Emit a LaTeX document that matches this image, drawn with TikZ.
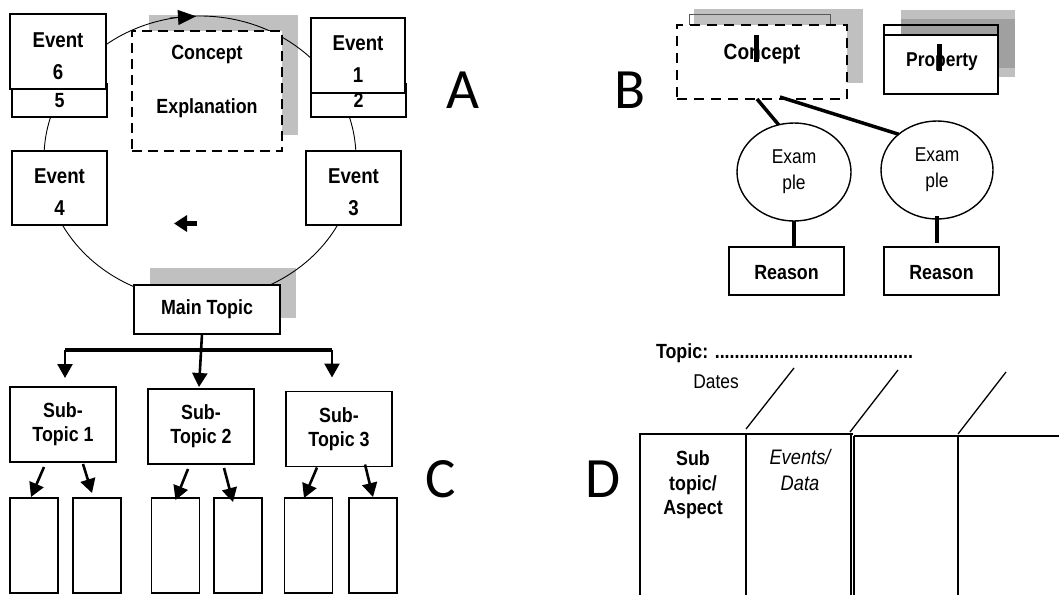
\documentclass[tikz,border=0pt]{standalone}
\usepackage{fontspec}
\setmainfont{Liberation Sans}
\newfontfamily\nar[FakeStretch=0.87]{Liberation Sans}
\newfontfamily\letfont{Carlito}
\usetikzlibrary{arrows.meta,shapes.geometric}
\definecolor{shadeL}{HTML}{C0C0C0}
\definecolor{shadeD}{HTML}{A0A0A0}
\begin{document}
\begin{tikzpicture}[x=1pt,y=-1pt,
  every node/.style={inner sep=0pt, outer sep=0pt},
  bx/.style={draw, fill=white, line width=1.5pt, align=center, font=\nar\bfseries\fontsize{20.5}{32}\selectfont},
  txt/.style={align=center, font=\nar\bfseries\fontsize{20.5}{32}\selectfont},
  evt/.style={align=center, font=\nar\bfseries\fontsize{21.5}{32}\selectfont},
  subt/.style={align=center, font=\nar\bfseries\fontsize{20.5}{24}\selectfont},
  reg/.style={align=center, font=\nar\fontsize{20}{26}\selectfont},
  letter/.style={font=\letfont\fontsize{57}{60}\selectfont},
  arr/.style={line width=2.6pt, -{Triangle[length=14pt,width=15pt]}},
  link/.style={line width=3.5pt},
  tab/.style={line width=1.6pt},
  smallbox/.style={draw, line width=1.4pt, minimum width=48, minimum height=95},
  subbox/.style={draw, fill=white, line width=1.8pt, minimum width=106, minimum height=75}]
\useasboundingbox (0,0) rectangle (1059,595);
\fill[white] (0,0) rectangle (1059,595);

% ---------------- A ----------------
\fill[shadeL] (149,15) rectangle (298,135);
\fill[shadeL] (150,268) rectangle (296,318);
\draw[line width=0.9pt] (200,158) ellipse [x radius=156, y radius=142];
\coordinate (ta) at (170,18);
\coordinate (tb) at (196,16.3);
\draw[line width=0.9pt, -{Triangle[length=18pt,width=15pt]}] (ta) -- (tb);
\coordinate (ba) at (197,223.5);
\coordinate (bb) at (174,223.5);
\draw[line width=4.5pt, -{Triangle[length=13pt,width=16pt]}] (ba) -- (bb);

\node (ce) [bx, dashed, dash pattern=on 10pt off 6pt, minimum width=150, minimum height=120] at (207,91) {};
\node (cet) [txt] at (207,81) {Concept\\[22pt]Explanation};

\node (e5) [bx, minimum width=95, minimum height=33] at (59.5,100.5) {5};
\node (e6) [bx, minimum width=96, minimum height=75] at (58,51.5) {};
\node (e6t) [evt] at (58,56) {Event\\6};
\node (e2) [bx, minimum width=95, minimum height=33] at (358.5,100.5) {2};
\node (e1) [bx, minimum width=94, minimum height=75] at (358,55.5) {};
\node (e1t) [evt] at (358,59) {Event\\1};
\node (e4) [bx, minimum width=95, minimum height=74] at (59.5,188) {};
\node (e4t) [evt] at (59.5,192.5) {Event\\4};
\node (e3) [bx, minimum width=95, minimum height=74] at (353.5,188) {};
\node (e3t) [evt] at (353.5,192.5) {Event\\3};
\node (mt) [bx, minimum width=146, minimum height=49] at (207,309.5) {Main Topic};

\node (lA) [letter] at (463,90) {A};
\node (lB) [letter] at (630,90) {B};
\node (lC) [letter] at (441,479) {C};
\node (lD) [letter] at (603,479) {D};

% ---------------- C ----------------
\node (st1) [subbox] at (63,424.5) {};
\node (st2) [subbox] at (201,426.5) {};
\node (st3) [subbox] at (339,429) {};
\node (st1t) [subt] at (63,424) {Sub-\\Topic 1};
\node (st2t) [subt] at (201,426) {Sub-\\Topic 2};
\node (st3t) [subt] at (339,429) {Sub-\\Topic 3};
\node (s11) [smallbox] at (34,545.5) {};
\node (s12) [smallbox] at (97,545.5) {};
\node (s21) [smallbox] at (175.5,545.5) {};
\node (s22) [smallbox] at (238,545.5) {};
\node (s31) [smallbox] at (308.5,545.5) {};
\node (s32) [smallbox] at (373,545.5) {};

\coordinate (barL) at (65,350);
\coordinate (barR) at (332,350);
\draw[line width=3.5pt] (barL) -- (barR);
\draw[arr] (barL) -- ([xshift=2pt,yshift=9pt]st1.north);
\draw[arr] (barR) -- ([xshift=-7pt,yshift=14pt]st3.north);
\draw[arr] ([xshift=-5pt]mt.south) -- ([xshift=-2pt,yshift=2pt]st2.north);

\draw[arr] ([xshift=-19pt,yshift=-5pt]st1.south) -- ([xshift=-3pt,yshift=1pt]s11.north);
\draw[arr] ([xshift=20pt,yshift=-2pt]st1.south) -- ([xshift=-5pt,yshift=5pt]s12.north);
\draw[arr] ([xshift=-13pt,yshift=-5pt]st2.south) -- ([yshift=-2pt]s21.north);
\draw[arr] ([xshift=23pt,yshift=-4pt]st2.south) -- ([xshift=-5pt,yshift=-4pt]s22.north);
\draw[arr] ([xshift=-22pt,yshift=-1pt]st3.south) -- ([xshift=-4.5pt]s31.north);
\draw[arr] ([xshift=26pt,yshift=2pt]st3.south) -- ([yshift=1pt]s32.north);

% ---------------- B ----------------
\fill[shadeL] (694,9) rectangle (863,83);
\draw[line width=1pt, black!65] (689,14) rectangle (830,40);
\node (cb) [bx, line width=2pt, dashed, dash pattern=on 10pt off 7pt, minimum width=170, minimum height=74] at (762,62) {};
\node (cbt) [txt, font=\nar\bfseries\fontsize{22}{26}\selectfont] at (762,54.5) {Concept};
\fill[black] (754.3,35) rectangle (758.5,62);

\fill[shadeL] (901,10) rectangle (1015,77);
\fill[shadeD] (901,19) rectangle (1015,68);
\node (pr) [bx, minimum width=114, minimum height=59] at (941,64.5) {};
\draw[line width=1.4pt] ([yshift=10pt]pr.north west) rectangle (pr.north east);
\node (prt) [txt, font=\nar\bfseries\fontsize{20}{24}\selectfont] at (942,62) {Property};
\fill[black] (937.3,44) rectangle (941.8,71);

\node (ex1) [ellipse, draw, line width=1.4pt, fill=white, minimum width=114, minimum height=98, reg] at (794,172) {Exam\\ple};
\node (ex2) [ellipse, draw, line width=1.4pt, fill=white, minimum width=112, minimum height=98, reg] at (937,170) {Exam\\ple};
\node (r1) [bx, minimum width=115, minimum height=48] at (786.5,271) {};
\node (r2) [bx, minimum width=115, minimum height=48] at (941.5,271) {};
\node (r1t) [txt] at (786.5,272.5) {Reason};
\node (r2t) [txt] at (941.5,272.5) {Reason};

\draw[link] ([xshift=-5pt]cb.south) -- (ex1.108);
\draw[link] ([xshift=18pt,yshift=2pt]cb.south) -- (ex2.137);
\draw[link] (ex1.south) -- ([xshift=7.5pt]r1.north);
\draw[link] ([yshift=3pt]ex2.south) -- ([xshift=-4.5pt,yshift=4pt]r2.north);

% ---------------- D ----------------
\node (topic) [anchor=west, font=\nar\bfseries\fontsize{20.5}{22}\selectfont] at (656,353) {Topic: ........................................};
\node (dates) [font=\nar\fontsize{20}{22}\selectfont] at (716,382) {Dates};

\coordinate (c0) at (640,434);
\coordinate (c1) at (746,434);
\coordinate (c2) at (851,434);
\coordinate (c2b) at (854,436);
\coordinate (c3) at (958,436);
\coordinate (cR) at (1059,436);
\draw[tab] (640,595) -- (c0) -- (852.5,434);
\draw[tab] (c1) -- (746,595);
\draw[tab] (c2) -- (851,595);
\draw[tab] (c2b) -- (854,595);
\draw[tab] (c2b) -- (cR);
\draw[tab] (c3) -- (958,595);
\draw[line width=1.3pt] ([yshift=5pt]c1) -- (794,368);
\draw[line width=1.3pt] ([xshift=-1pt,yshift=2pt]c2) -- (898,370);
\draw[line width=1.3pt] ([yshift=2pt]c3) -- (1006,372);

\node (asp) [txt, font=\nar\bfseries\fontsize{20.5}{24.5}\selectfont] at (693,485) {Sub\\topic/\\Aspect};
\node (evd) [align=center, font=\nar\itshape\fontsize{21}{26}\selectfont] at (800,470) {Events/\\Data};
\end{tikzpicture}
\end{document}
